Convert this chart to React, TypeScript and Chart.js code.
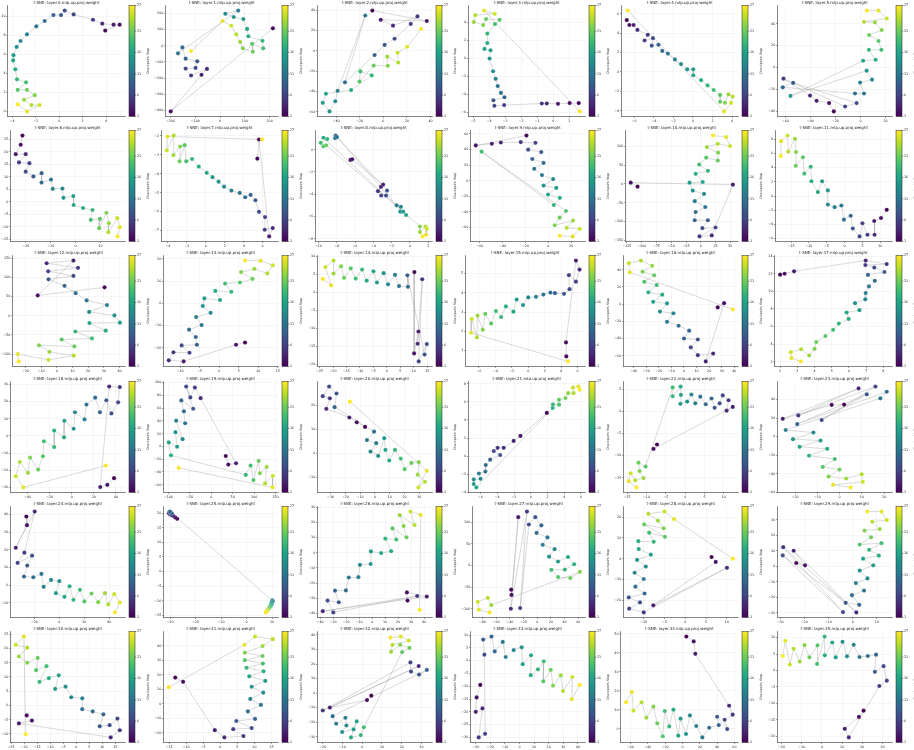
import React, { useEffect, useRef } from 'react';
import { Chart, registerables } from 'chart.js';

Chart.register(...registerables);

// ---------- data: t-SNE coordinates per layer, in checkpoint-step order ----------
const L0 = [[3.92,8.49],[5.15,9.11],[4.63,9.11],[3.67,9.22],[2.88,9.63],[1.23,10.19],[0.47,10.6],[0.16,10.12],[-0.49,10.12],[-1.23,9.5],[-1.95,8.94],[-2.74,8.1],[-3.29,7.4],[-3.62,6.78],[-3.89,5.91],[-3.92,5.36],[-3.73,4.42],[-3.59,3.37],[-2.82,3.06],[-3.53,2.26],[-2.74,2.26],[-2.08,1.7],[-2.99,1.22],[-2.36,0.66],[-1.67,0.66],[-2.74,0],[-3.53,0.73]];
const L1 = [[213,108],[-199,-406],[-75,-180],[-53,-143],[-117,-184],[-139,-141],[-99,-137],[-92,-96],[-139,-80],[-152,-10],[-170,-47],[73,218],[21,198],[55,178],[94,165],[109,104],[114,59],[171,31],[174,-16],[129,12],[132,-37],[92,-16],[81,24],[65,71],[45,124],[10,153],[-117,-33]];
const L2 = [[-9.3,39.7],[36.8,29.4],[-2.2,30.6],[8.2,24.8],[28.9,33.9],[23.2,26.5],[9.5,11.9],[1.1,5.8],[-7.4,-4.2],[-32.5,-31],[-15.3,34.8],[-38.7,-39.4],[-40.7,-49.7],[-45.6,-59.7],[-51.3,-51.3],[-48.6,-42.3],[-27.3,-38.7],[-9.8,-24.2],[-19.4,-20.3],[-20.2,-30.3],[-8.2,-14.5],[3.8,-14.8],[3.3,-5.8],[12.6,-11.6],[12,-1.9],[20.2,3.9],[31.9,21.6]];
const L3 = [[1.6,-4.96],[1.03,-4.96],[0.3,-5.04],[-0.4,-5.0],[-0.71,-5.0],[-3.07,-5.18],[-3.68,-5.26],[-3.74,-4.64],[-3.05,-4.31],[-3.27,-3.83],[-3.47,-3.07],[-3.6,-2.26],[-3.76,-1.42],[-3.98,0],[-3.92,0.91],[-4.3,1.06],[-4.12,1.72],[-4.12,2.77],[-3.64,3.83],[-3.35,4.3],[-4.2,4.38],[-4.38,3.72],[-4.97,4.05],[-4.87,4.82],[-3.66,4.96],[-4.32,5.33],[1.66,-5.88]];
const L4 = [[-6.77,5.36],[-6.5,4.85],[-6.07,4.85],[-5.68,4.34],[-4.62,3.83],[-4.95,3.25],[-4.09,3.49],[-4.22,2.71],[-3.53,2.81],[-3.14,2.17],[-2.57,1.9],[-1.85,1.29],[-1.22,0.81],[-0.59,0.27],[0.03,0.27],[0.03,-0.34],[0.83,-0.85],[1.49,-1.39],[2.11,-1.86],[2.77,-2.37],[2.77,-3.08],[3.27,-3.19],[3.63,-2.31],[4.06,-2.54],[3.89,-3.19],[3.2,-4.07],[-6.67,6.34]];
const L5 = [[-21.3,-40.3],[-25.1,-32.7],[-35.1,-30.6],[-40.3,-25.8],[-61.5,-10.3],[-12.3,-35.8],[-3.1,-32.7],[-53.8,-14.2],[-62.1,-18.2],[-4.4,-23.9],[2.8,-23.9],[-0.3,-13.9],[9.2,-11.2],[4.9,-3],[-55.9,-26.1],[2.1,6.1],[12.1,7],[6.7,16.1],[16.7,16.1],[14.4,24.2],[6.9,29.7],[16.9,34.2],[11.5,41.2],[2.8,41.8],[21,44.8],[14.4,52.1],[5.1,52.1]];
const L6 = [[-21.4,26.6],[-22.1,22.9],[-24.1,19.1],[-20.1,19.1],[-22.8,15.8],[-18.6,15.5],[-20.1,12.1],[-17,10.2],[-13.7,11.5],[-13.7,7.7],[-9.9,8.9],[-9.2,5.2],[-5.3,5.3],[-4.9,1.6],[-0.9,2.3],[-0.8,-1.3],[3,-2.5],[6.8,-3.3],[6.1,-7.3],[9.8,-6.9],[9.5,-10.6],[12.4,-4.4],[13.4,-8.6],[13.2,-12.2],[16.8,-6.6],[17.8,-10.2],[16.9,-13.9]];
const L7 = [[5.44,-3.2],[5.61,-2.19],[6.69,-7.31],[7.06,-6.87],[6.22,-6.96],[6.25,-6.29],[5.61,-6.01],[5.24,-5.4],[4.73,-5.12],[4.16,-5.24],[3.58,-5.01],[2.7,-4.89],[1.93,-4.68],[1.35,-4.42],[0.71,-4.18],[0.1,-3.95],[-0.74,-3.62],[-1.45,-3.22],[-2.06,-3.34],[-2.23,-2.49],[-2.77,-3.34],[-2.7,-2.56],[-3.41,-3.01],[-3.38,-1.98],[-4.12,-2.77],[-4.05,-2.03],[5.95,-2.19]];
const L8 = [[-6.49,-0.92],[-6.31,-0.86],[-2.93,-3.14],[-3.17,-3.35],[-3.49,-3.73],[-3.14,-4.12],[-2.61,-4.12],[-2.5,-3.67],[-8.11,1.27],[-8.18,1.04],[-7.97,1.13],[-1.45,-5.0],[-0.99,-5.13],[-1.06,-5.57],[-0.74,-5.57],[-0.42,-5.87],[-9.45,1.07],[-9.03,0.95],[-9.74,0.62],[-9.45,0.3],[-9.14,0.39],[1.09,-6.9],[1.09,-7.4],[1.69,-6.9],[1.83,-7.11],[1.76,-7.64],[1.38,-7.79]];
const L9 = [[-19.2,57.8],[-63.7,45.1],[-49.6,47.3],[-41.7,48.9],[-24.2,49.4],[-11.3,48.5],[-17.7,39.7],[-6.2,36.7],[-14.1,27.8],[-4.2,22.8],[-12.4,15.2],[-5.6,7.2],[4.2,2.1],[-4.2,-6.3],[7,-9.3],[-0.3,-17.7],[10.1,-21.9],[4.8,-31.2],[-58.6,37.1],[15.5,-38.8],[9.9,-47.3],[5.6,-57],[21.7,-51],[16.1,-60.3],[27.6,-61.6],[21.4,-71.3],[10.1,-70.5]];
const L10 = [[-107,-7],[-118.5,3.5],[54.3,-1.8],[18.5,-136.8],[-2.2,-139.5],[25,-115.8],[2.7,-117.5],[12,-96.5],[-10.3,-96.5],[-8.7,-74.6],[7.6,-61.4],[-10.3,-45.6],[5.4,-26.3],[-13.6,-17.5],[-19,3.5],[3.3,5.3],[-8.7,27.2],[12,35.1],[-2.7,51.8],[9.2,70.2],[28.8,62.3],[29.3,83.3],[10.3,98.2],[28.8,107],[49.5,101],[42.9,124.6],[20.7,129]];
const L11 = [[11.8,-1.94],[10.2,-3.1],[8.3,-3.52],[8.4,-5.46],[6.4,-5.46],[5,-3.84],[4.2,-5.69],[2.3,-4.58],[1.7,-2.78],[-0.2,-3.33],[-0.9,-1.34],[-2.8,-1.57],[-4.7,-1.2],[-4.7,0.79],[-6.3,2.08],[-7.5,0.56],[-9.3,2.08],[-9.5,4.12],[-11.3,3.15],[-11.7,5.46],[-13.7,4.26],[-13.6,6.2],[-13.9,8.06],[-15.8,6.25],[-16,8.52],[-17.8,7.73],[-17.9,5.65]];
const L12 = [[30.4,74.1],[-12.2,53],[10.6,144],[-6.5,137],[13.5,125],[-5.5,116],[10.6,104],[-5.3,95],[4.9,78],[12,59],[19,40],[32,28],[20.6,10],[36.7,1],[40.2,-18],[20.8,-19],[31.2,-39],[11.8,-41],[22.4,-59],[3.1,-62],[11.2,-80],[-11.4,-77],[-4.7,-94],[10.8,-104],[-5.3,-115],[-24.9,-100],[-24.3,-119]];
const L13 = [[6.6,-17.7],[4.3,-18.7],[-9.1,-26.2],[-12.9,-25.7],[-11.7,-22.1],[-7.6,-22.3],[-9.6,-19],[-5.7,-18.7],[-6,-15.2],[-7.7,-11.9],[-4.5,-9.8],[-5.9,-6.2],[-2.2,-4.3],[-4.2,-1.2],[-3.8,2.2],[0.2,1.5],[-1,5.6],[3.1,5.2],[1.5,8.9],[5.3,9.4],[8.5,11],[5.6,14.1],[9,15.5],[12.3,13.5],[13.7,17.1],[10.6,19.2],[6.6,19.3]];
const L14 = [[10.2,5.6],[10.1,-17],[11.7,-10.9],[11.4,-14.3],[13.1,3.6],[11.8,-19.2],[14.8,-14.4],[14,-17.3],[7.6,4.7],[7.8,1.5],[4.5,1.7],[3,4.8],[0.4,2.2],[-1.2,5.3],[-3.7,2.7],[-5,5.8],[-7.5,3.2],[-9.2,6.3],[-11.6,3.8],[-13.4,6.6],[-15.9,4],[-17,7.2],[-19.8,5.2],[-19.8,8.8],[-22.8,7],[-20.7,1.9],[-23.8,3.7]];
const L15 = [[4.63,0.69],[4.59,1.42],[5.8,5.68],[6.24,5.21],[5.8,4.58],[4.94,4.92],[5.02,4.19],[4.35,3.95],[3.25,3.98],[2.7,4.01],[1.84,3.91],[0.94,3.79],[0,3.76],[-0.63,3.36],[-1.41,3.65],[-1.8,3.02],[-2.71,3.29],[-3.29,2.74],[-3.92,3.05],[-4.51,2.4],[-5.22,2.9],[-5.53,2.08],[-6.16,2.81],[-6.24,1.68],[-6.86,2.64],[-6.94,1.92],[4.82,0.43]];
const L16 = [[26.8,-3.8],[31.9,1.1],[17.3,-66.5],[23.2,-57.4],[11,-59.3],[5.4,-50.2],[11,-41.1],[0,-39.9],[4.1,-30.8],[-4.3,-25.1],[-13.5,-20.5],[-8.4,-10.6],[-19.1,-8.7],[-13.5,0.8],[-24.5,2.7],[-17.3,11],[-28.3,13.7],[-21.7,22.1],[-31.6,25.9],[-23.7,33.5],[-32.9,37.6],[-25.3,44.5],[-34.2,50.6],[-43.9,47.5],[-43.1,36.9],[38.8,-6.1]];
const L17 = [[2.0,11.9],[2.26,12.0],[2.81,12.28],[6.97,13.5],[8.19,13.1],[6.95,12.99],[7.47,12.7],[8.06,12.2],[7.1,11.87],[7.5,11.2],[7.16,10.56],[6.97,9.81],[6.95,9.1],[6.35,8.66],[6.61,7.87],[5.86,7.6],[5.98,6.87],[5.41,6.34],[5.08,5.63],[4.63,4.93],[4.1,4.25],[4.0,3.47],[3.69,2.72],[3.22,3.43],[2.62,3.1],[2.66,2.43],[3.2,2.05]];
const L18 = [[38.3,-24.6],[32.2,-28.5],[25.8,-29.8],[33.9,28.8],[43.5,28.5],[42,19.6],[35.9,13.1],[31.3,20.8],[25.5,13.8],[21.2,22.3],[13.3,18.3],[11.6,9.6],[2.9,13.8],[1.7,4.2],[-6.7,8.8],[-7,-0.8],[-15.9,3.1],[-15.9,-6.5],[-25.2,-3.1],[-26.1,-11.9],[-30.4,-19.6],[-37.7,-12.7],[-39.7,-21.5],[-47,-15.2],[-50.7,-23.5],[-43.8,-30],[30.7,-17.3]];
const L19 = [[33.8,-15],[39.8,-28.5],[57.9,-26.4],[-24.8,75.6],[-38.3,92.2],[-48.9,76.7],[-58.6,93.8],[-42.1,59],[-69.9,72],[-63.9,54.9],[-60.9,36.3],[-82,40.4],[-66.9,11.4],[-83.5,22.3],[-79.7,-0.5],[-99.2,6.2],[-94,-14],[80.5,-44.6],[91.7,-30],[98.5,-52.8],[110.5,-22.8],[113.5,-42],[129.3,-32.1],[125.6,-58],[143.6,-46.1],[142.9,-64.2],[-75.9,-33.7]];
const L20 = [[-6.7,11],[-12.3,12.9],[-17.3,14.9],[-32.9,18.5],[-30.5,22.9],[-35.3,23.8],[-31,27.8],[-26,24.9],[-27.3,19.2],[-0.6,9],[-5.4,5.5],[0.9,4.2],[-3,0.7],[2.2,-1.1],[6.3,6.3],[7.1,1.4],[9.7,-3],[13.6,1.4],[17.5,-2.2],[20.1,-6.6],[24.7,-4],[29.7,-3.7],[29,-8.9],[33.8,-11.9],[29.4,-14.2],[35.1,-7.3],[-16.9,21.5]];
const L21 = [[1.92,4.78],[-1.23,2.23],[-2.04,1.68],[-3.23,0.91],[-3.96,0.91],[-4.42,0.55],[-3.65,0.11],[-4.85,-0.4],[-5.38,-0.99],[-5.42,-1.72],[-6.19,-1.93],[-6.0,-2.52],[-6.81,-2.59],[-6.81,-3.1],[-6.5,-3.47],[2.62,5.33],[2.65,5.73],[3.38,5.69],[3.38,6.24],[4.15,6.42],[4.46,6.97],[5.12,6.97],[5.04,7.59],[5.69,7.7],[5.85,7.34]];
const L22 = [[-7.3,-7.5],[-8.2,-8.5],[12.3,1.0],[10.7,0.15],[11.2,2.5],[9.7,3.6],[8.9,1.8],[7.6,0.8],[6.8,2.9],[5.3,1.6],[3.9,3.3],[2.6,1.8],[1.6,3.8],[0.5,2.2],[-1.25,1.7],[-1.1,3.7],[-1.2,5.6],[-3.25,3.4],[-3.25,5.4],[-10.25,-12.5],[-12.1,-11.6],[-11.8,-13.5],[-10.8,-15.1],[-12.9,-15.6],[-14.1,-14],[-14.6,-15.8],[-12.6,-17.2]];
const L23 = [[2,34.5],[-3.6,34.2],[-25.6,19.2],[8.5,52],[-18.6,22.8],[16.1,54],[-8.1,17.8],[12.2,45.6],[-19.1,13.5],[21.2,48.4],[18.3,41.3],[-24.3,7.1],[-11.8,4.3],[-21,-2.8],[-8.6,-4.3],[-18,-11],[-5.6,-13.2],[-13.8,-20.6],[-2.2,-24.2],[-7.6,-32.7],[-0.1,-35.6],[-5,-43.1],[2.9,-45.2],[9.9,-40.6],[10.4,-48.8],[-2.9,-52],[4.9,-54.8]];
const L24 = [[-26.5,38.9],[-26,34],[-35,21.2],[-19.8,41.7],[-28.1,18.4],[-33.5,12.6],[-21.9,16.7],[-25.8,11.1],[-28.4,4.9],[-20.9,4.5],[-14.4,6.4],[-12.6,-0.9],[-6.7,3],[0,2.3],[-2.8,-4.5],[4.1,-6.6],[8.2,-0.6],[11.3,-8.3],[16.5,-2.6],[20.1,-9.2],[25.8,-4.7],[31.2,-9.6],[36.6,-4.5],[39.2,-10.9],[44.1,-5.1],[48.5,-9.8],[44.6,-15.4]];
const L25 = [[-27.2,18],[-28,18.5],[-28.8,19],[-29.5,19.3],[-30.1,19.6],[-30.5,19.9],[-30.3,20.3],[-29.8,20.1],[-29.3,19.9],[-30,20.5],[10.1,-9.8],[10.3,-10.1],[10,-10.4],[9.8,-10.7],[9.9,-11],[9.6,-11.3],[9.5,-11.6],[9.3,-11.9],[9.1,-12.1],[8.9,-12.4],[8.7,-12.6],[8.5,-12.9],[8.3,-13.1],[8.1,-13.3],[7.9,-13.5],[7.7,-13.7],[7.5,-13.9]];
const L26 = [[27.2,-31.5],[26.7,-26.1],[42,-28.9],[-38,-38.5],[34.6,-28.5],[-29.9,-39.3],[-34.3,-31.5],[-25.7,-32.6],[-28.6,-25],[-20.2,-24.8],[-18,-16.3],[-10.6,-16.1],[-9.4,-8],[-1.2,-7.4],[-1,0.9],[6.9,-0.2],[14.6,1.1],[10.1,9.3],[18.5,8.7],[15.6,16.1],[26.4,10.2],[24.2,17.6],[21.2,24.8],[32.6,18.3],[29.4,27.2],[37.3,25],[36.5,-37.6]];
const L27 = [[-38,-55.7],[-37.6,-68],[-27.7,112],[-38.5,-100],[-15,125],[-24.9,-98.5],[-12.2,95],[-2.8,112],[6.1,93],[-0.9,75.6],[15,65],[8,48],[25.4,38],[17.4,20.6],[30.5,9.2],[45,19.8],[54,3],[40.4,-9.2],[20.7,-9.9],[30.5,-26.7],[48.4,-29],[62.4,-14.5],[-67.1,-91.6],[-72.3,-74.8],[-86.9,-84],[-85.4,-102.3],[-69.5,-108.4]];
const L28 = [[6.3,0.8],[7.3,-1.6],[-7.7,-22.5],[10,-4.4],[-10,-25.9],[-13.5,-24.1],[-10.9,-21.1],[-13.6,-18.7],[-9.8,-16.8],[-12,-13.5],[-10,-9.8],[-12.2,-6.8],[-9.5,-3.8],[-11.6,-0.6],[-8.3,1.9],[-11.2,4.6],[-11.3,8.4],[-7.6,8.1],[-8.7,12.5],[-4.9,10.5],[-9.9,16.5],[-5.2,14.6],[-6.6,18.3],[-8.9,21.6],[-5,22.7],[-2.7,19],[11.4,0]];
const L29 = [[-23.3,2.1],[-19.7,0.6],[-24.4,10],[1.5,-29.8],[-28.7,12.3],[-4,-29.6],[-28.9,7],[-2.9,-23.6],[2.7,-24.9],[-0.3,-18.7],[4.7,-15.7],[1.3,-10.9],[6.1,-7.9],[2.9,-2.8],[8.5,0.6],[4.3,4.9],[10.8,6.8],[6.8,10.6],[11.9,14.9],[2.9,14],[7.6,18.7],[4.9,23],[11.2,24],[8.1,28.7],[14.1,29.8],[11.9,35.3],[6.1,35.3]];
const L30 = [[-19,-3.5],[-17,-5.3],[-22,-6.3],[13.2,-11.2],[16.7,-8.7],[15.8,-4.6],[12.8,-6.9],[9,-7.3],[10.4,-3.1],[6.3,-2.1],[2.3,-1.3],[2.3,2.5],[-1.9,2.9],[-4.1,6.6],[-8.1,5.8],[-6.7,10.6],[-10.5,9.6],[-14.1,8.3],[-11.4,13.8],[-15.4,12.4],[-14.8,16.7],[-18.8,15],[-22,17.2],[-18.8,20.3],[-23.2,21.3],[-20.1,24.2],[-19.4,-10.1]];
const L31 = [[-13.2,18.1],[-10.9,15.2],[-1.6,-18.1],[1.2,-23.1],[6.8,-22.2],[3.8,-17.4],[9.2,-16.7],[4.7,-11.8],[10.2,-10.4],[8.1,-5.2],[11.9,-0.7],[8.8,3.4],[12.6,7.7],[9.2,11.8],[13.2,15.8],[8.5,19],[12.7,22.4],[7.7,24.9],[12.5,27.8],[7.2,30.1],[12.4,33],[7.2,35.3],[12.4,39.8],[15.4,44.6],[10.2,46.4],[7.1,40.7],[-15.1,11.5]];
const L32 = [[4.6,-1.8],[2.4,-4.8],[-16.4,-10],[28.6,18.6],[-20,-12],[24.4,21.1],[24.7,14.8],[28.8,12.7],[32.7,15.9],[-15,-15.9],[-13.2,-21.1],[-8.5,-17],[-8,-22.3],[-10.2,-26.8],[-4.4,-25],[-2.8,-19.5],[-5.7,-30.5],[-0.7,-28.9],[0.8,-23.6],[20.2,28.2],[23.9,31.1],[19.2,33.2],[14.6,28.4],[15.3,33.2],[23.6,36.1],[19.5,38.9],[14.3,38.2]];
const L33 = [[-26.9,-9.5],[-29.4,-14.4],[-30,-20],[-25.4,-18.7],[-28,-30],[-23.6,-28.6],[-24.1,2.3],[-24.9,8.2],[-19.2,9.4],[-17,3.6],[-11.5,7.3],[-9.5,1.4],[-4,4.1],[1.5,5.2],[2.2,-1.4],[7.9,2.1],[7.7,-5.7],[12.6,-3.4],[16.6,-0.3],[16.3,-8.1],[21.4,-3.6],[23,-9.8],[28.3,-5.8],[29.8,-11.9],[36.2,-6.4],[35.8,-15.1],[41.3,-9.5]];
const L34 = [[4.5,48.6],[13,46],[14.9,39.5],[53.9,12.1],[58,7.4],[48.7,4.7],[51.7,-0.2],[40.1,6.3],[42,1.9],[30.9,0.5],[23,-4.6],[16,1.4],[8.6,7],[4.1,-2.8],[-2.2,5.3],[-4.8,-3.7],[-10.4,10],[-15.2,1.2],[-20.4,9.3],[-22.7,-4],[-29,2.8],[-33.5,11.6],[-41.6,5.8],[-47.2,13.9],[-56.5,9.5],[-58.4,19.3],[-65,14]];
const L35 = [[20.6,-12.2],[18.3,-14.1],[11.3,-17.7],[13.3,-20.3],[28.4,-4.7],[32.1,-3.1],[30.5,1.3],[26.2,-0.4],[26.8,4.8],[22.7,4.4],[18.6,4.1],[15.7,7.8],[12.4,4.3],[10.2,8.7],[6.8,4],[5.1,8.5],[1.4,4.6],[1.3,10.3],[-2.4,2],[-2.2,7.6],[-6.2,4],[-8.6,7.7],[-11,2.7],[-14,6.6],[-15.9,1.8],[-18.1,9],[-19.4,4.4]];

const LAYER_POINTS = [L0,L1,L2,L3,L4,L5,L6,L7,L8,L9,L10,L11,L12,L13,L14,L15,L16,L17,L18,L19,L20,L21,L22,L23,L24,L25,L26,L27,L28,L29,L30,L31,L32,L33,L34,L35];
const LAYER_IDS = LAYER_POINTS.map((_, i) => i);
const TITLES = LAYER_IDS.map((i) => `t-SNE: layer.${i}.mlp.up.proj.weight`);

// tick spacing as shown on each subplot
const X_STEP = [2,100,20,1,2,20, 10,2,2,20,25,5, 10,5,5,2,10,1, 20,50,10,2,5,10, 20,10,10,20,5,10, 5,5,10,10,20,10];
const Y_STEP = [2,100,20,2,2,20, 5,1,2,20,50,2, 50,10,5,1,20,2, 10,20,10,2,5,20, 10,5,10,50,10,10, 5,10,10,5,10,5];

const STEP_MIN = 1;
const STEP_MAX = 27;
const CBAR_TICKS = [1, 6, 11, 16, 21, 27];
const CBAR_LABEL = 'Checkpoint Step';

// ---------- style ----------
const VIRIDIS = ['#440154','#482475','#414487','#355f8d','#2a788e','#21918c','#22a884','#44bf70','#7ad151','#bddf26','#fde725'];
const FAMILY = "'DejaVu Sans', sans-serif";
const COL_LEFT = [0, 153, 307, 460, 613, 767];
const ROW_TOP = [0, 125, 250, 376, 501, 626];
const CELL_W = 153;
const CELL_H = 125;

function hexToRgb(h: string) {
  const n = parseInt(h.slice(1), 16);
  return [(n >> 16) & 255, (n >> 8) & 255, n & 255];
}
function viridis(t: number) {
  const c = Math.max(0, Math.min(1, t)) * (VIRIDIS.length - 1);
  const i = Math.min(VIRIDIS.length - 2, Math.floor(c));
  const f = c - i;
  const a = hexToRgb(VIRIDIS[i]);
  const b = hexToRgb(VIRIDIS[i + 1]);
  const m = a.map((v, k) => Math.round(v + (b[k] - v) * f));
  return `rgb(${m[0]},${m[1]},${m[2]})`;
}
function fmt(v: number) {
  const r = Math.round(v * 1000) / 1000;
  if (Math.abs(r) < 1e-9) return '0';
  return (r < 0 ? '\u2212' : '') + String(Math.abs(r));
}
function ticksFor(min: number, max: number, step: number) {
  const out: { value: number }[] = [];
  const k0 = Math.ceil(min / step - 1e-9);
  const k1 = Math.floor(max / step + 1e-9);
  for (let k = k0; k <= k1; k++) out.push({ value: k * step });
  return out;
}

function makeChart(canvas: HTMLCanvasElement, idx: number) {
  const pts = LAYER_POINTS[idx];
  const xs = pts.map((p) => p[0]);
  const ys = pts.map((p) => p[1]);
  const x0 = Math.min(...xs), x1 = Math.max(...xs);
  const y0 = Math.min(...ys), y1 = Math.max(...ys);
  const mx = (x1 - x0) * 0.05, my = (y1 - y0) * 0.05;
  const xmin = x0 - mx, xmax = x1 + mx, ymin = y0 - my, ymax = y1 + my;
  const n = pts.length;
  const colors = pts.map((_, i) => viridis(i / (n - 1)));
  const title = TITLES[idx];

  const decor = {
    id: 'decor' + idx,
    afterDraw(chart: any) {
      const { ctx, chartArea: ca } = chart;
      ctx.save();
      // title
      ctx.fillStyle = '#222';
      ctx.font = `4px ${FAMILY}`;
      ctx.textAlign = 'center';
      ctx.textBaseline = 'middle';
      ctx.fillText(title, (ca.left + ca.right) / 2, ca.top - 2.8);
      // colorbar
      const bx = ca.right + 4;
      const bw = 6;
      const top = ca.top, bot = ca.bottom, h = bot - top;
      const g = ctx.createLinearGradient(0, bot, 0, top);
      VIRIDIS.forEach((c, i) => g.addColorStop(i / (VIRIDIS.length - 1), c));
      ctx.fillStyle = g;
      ctx.fillRect(bx, top, bw, h);
      ctx.strokeStyle = '#222';
      ctx.lineWidth = 0.5;
      ctx.strokeRect(bx, top, bw, h);
      ctx.font = `3.3px ${FAMILY}`;
      ctx.textAlign = 'left';
      ctx.fillStyle = '#222';
      CBAR_TICKS.forEach((v) => {
        const y = bot - ((v - STEP_MIN) / (STEP_MAX - STEP_MIN)) * h;
        ctx.beginPath();
        ctx.moveTo(bx + bw, y);
        ctx.lineTo(bx + bw + 1.3, y);
        ctx.stroke();
        ctx.fillText(String(v), bx + bw + 2, y);
      });
      ctx.translate(bx + bw + 13, top + h / 2);
      ctx.rotate(-Math.PI / 2);
      ctx.textAlign = 'center';
      ctx.font = `3.2px ${FAMILY}`;
      ctx.fillText(CBAR_LABEL, 0, 0);
      ctx.restore();
    },
  };

  const axis = (min: number, max: number, step: number) => ({
    type: 'linear',
    min,
    max,
    afterBuildTicks: (s: any) => {
      s.ticks = ticksFor(min, max, step);
    },
    ticks: {
      font: { family: FAMILY, size: 3.3 },
      color: '#222',
      padding: 0.8,
      maxRotation: 0,
      minRotation: 0,
      autoSkip: false,
      callback: (v: any) => fmt(Number(v)),
    },
    grid: {
      color: 'rgba(0,0,0,0.07)',
      lineWidth: 0.5,
      tickLength: 1.5,
      tickColor: '#333',
      tickWidth: 0.5,
    },
    border: { display: true, color: '#333', width: 0.6 },
  });

  return new Chart(canvas, {
    type: 'scatter',
    data: {
      datasets: [
        {
          data: pts.map((p) => ({ x: p[0], y: p[1] })),
          showLine: true,
          borderColor: 'rgba(150,150,150,0.6)',
          borderWidth: 0.6,
          pointRadius: 2.1,
          pointHoverRadius: 2.1,
          pointBackgroundColor: colors,
          pointBorderColor: 'rgba(255,255,255,0.6)',
          pointBorderWidth: 0.3,
          tension: 0,
        } as any,
      ],
    },
    options: {
      animation: false,
      responsive: false,
      maintainAspectRatio: false,
      devicePixelRatio: 1,
      events: [],
      layout: { padding: { top: 5.5, right: 28, bottom: 1.5, left: 0.5 } },
      plugins: {
        legend: { display: false },
        tooltip: { enabled: false },
        title: { display: false },
      },
      scales: {
        x: axis(xmin, xmax, X_STEP[idx]) as any,
        y: axis(ymin, ymax, Y_STEP[idx]) as any,
      },
    },
    plugins: [decor as any],
  });
}

export default function App() {
  const refs = useRef<(HTMLCanvasElement | null)[]>([]);
  useEffect(() => {
    const charts: Chart[] = [];
    LAYER_IDS.forEach((i) => {
      const c = refs.current[i];
      if (c) charts.push(makeChart(c, i));
    });
    return () => charts.forEach((c) => c.destroy());
  }, []);

  return (
    <div
      style={{
        position: 'absolute',
        left: 0,
        top: 0,
        width: 914,
        height: 750,
        overflow: 'hidden',
        background: '#ffffff',
      }}
    >
      {LAYER_IDS.map((i) => (
        <canvas
          key={i}
          ref={(el) => {
            refs.current[i] = el;
          }}
          width={CELL_W}
          height={CELL_H}
          style={{
            position: 'absolute',
            left: COL_LEFT[i % 6],
            top: ROW_TOP[Math.floor(i / 6)],
            width: CELL_W,
            height: CELL_H,
          }}
        />
      ))}
    </div>
  );
}
